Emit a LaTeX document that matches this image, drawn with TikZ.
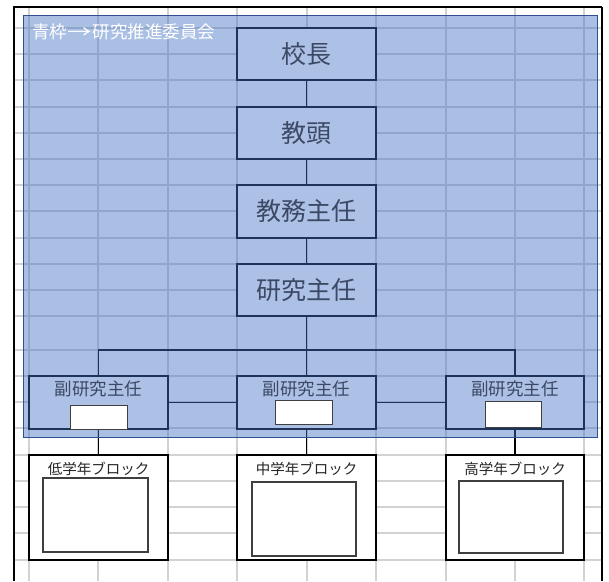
\documentclass[tikz,border=0pt]{standalone}
\usepackage{fontspec}
\usepackage{graphicx}
\newfontfamily\jp{Noto Sans CJK JP}
\definecolor{gridc}{HTML}{D2D2D2}
\definecolor{ovl}{HTML}{4472C4}
\definecolor{ovlb}{HTML}{2F528F}
\definecolor{boxf}{HTML}{ADC0E5}
\definecolor{navy}{HTML}{1F3358}
\definecolor{slate}{HTML}{3B4965}
\definecolor{dgray}{HTML}{3F3F3F}
\begin{document}
\begin{tikzpicture}[x=1pt,y=-1pt,
  gridline/.style={draw=gridc, line width=1.2pt},
  rolebox/.style={rectangle, draw=navy, line width=1.7pt, fill=boxf, inner sep=0pt, outer sep=0pt, minimum width=139pt},
  bigtext/.style={font=\jp\fontsize{25}{25}\selectfont, text=slate},
  subtext/.style={font=\jp\fontsize{17.5}{17.5}\selectfont, text=slate, inner sep=0pt},
  conn/.style={draw=navy, line width=1.3pt},
  lowconn/.style={draw=black, line width=1.2pt},
  whitebox/.style={rectangle, draw=dgray, line width=1pt, fill=white, inner sep=0pt, outer sep=0pt},
  blockbox/.style={rectangle, draw=black, line width=1.6pt, fill=white, inner sep=0pt, outer sep=0pt, minimum width=139pt, minimum height=105pt},
  innerbox/.style={rectangle, draw=dgray, line width=1.3pt, fill=white, inner sep=0pt, outer sep=0pt},
  blocktext/.style={font=\jp\fontsize{14.5}{14.5}\selectfont, text=black!85, inner sep=0pt}
]
\useasboundingbox (0,0) rectangle (609,581);
\fill[white] (0,0) rectangle (609,581);
% grid
\foreach \gx in {29,98,168,237,307,376,446,515,584}
  \draw[gridline] (\gx,7) -- (\gx,581);
\foreach \gy in {28,54,80,107,133,159,185,211,238,264,290,316,350,376,402,428,455,481,507,533,560}
  \draw[gridline] (14,\gy) -- (602,\gy);
\coordinate (bus) at (306.5,350);
% lower blocks
\node[blockbox] (blk1) at (98.5,507.5) {};
\node[blockbox] (blk2) at (306.5,507.5) {};
\node[blockbox, minimum width=138pt] (blk3) at (515,507.5) {};
% sub box frames (helpers)
\node[rectangle, inner sep=0pt, outer sep=0pt, minimum width=139pt, minimum height=53pt] (sub1) at (98.5,402.5) {};
\node[rectangle, inner sep=0pt, outer sep=0pt, minimum width=139pt, minimum height=53pt] (sub2) at (306.5,402.5) {};
\node[rectangle, inner sep=0pt, outer sep=0pt, minimum width=138pt, minimum height=53pt] (sub3) at (515,402.5) {};
\draw[lowconn] (sub1.south) -- (blk1.north);
\draw[lowconn] (sub2.south) -- (blk2.north);
\draw[lowconn] (sub3.south) -- (blk3.north);
% overlay
\fill[ovl, fill opacity=0.45] (23,15) rectangle (597,437);
\draw[ovlb, line width=0.9pt] (23,15) rectangle (597,437);
% top chain
\node[rolebox, minimum height=52pt, bigtext] (kocho) at (306.5,54) {校長};
\node[rolebox, minimum height=52pt, bigtext] (kyoto) at (306.5,133) {教頭};
\node[rolebox, minimum height=53pt, bigtext] (kyomu) at (306.5,211.5) {教務主任};
\node[rolebox, minimum height=52pt, bigtext] (kenkyu) at (306.5,290) {研究主任};
\draw[conn] (kocho.south) -- (kyoto.north);
\draw[conn] (kyoto.south) -- (kyomu.north);
\draw[conn] (kyomu.south) -- (kenkyu.north);
\draw[conn] (kenkyu.south) -- (bus);
\draw[conn] (sub1.north) |- (bus) -| (sub3.north);
\draw[conn] (bus) -- (sub2.north);
\draw[conn] (sub1.east) -- (sub2.west);
\draw[conn] (sub2.east) -- (sub3.west);
% sub boxes drawn
\node[rolebox, minimum height=53pt] (sub1b) at (sub1) {};
\node[rolebox, minimum height=53pt] (sub2b) at (sub2) {};
\node[rolebox, minimum height=53pt, minimum width=138pt] (sub3b) at (sub3) {};
\node[subtext] (sub1t) at (98.5,389) {副研究主任};
\node[subtext] (sub2t) at (306.5,389) {副研究主任};
\node[subtext] (sub3t) at (515,389) {副研究主任};
\node[whitebox, minimum width=57pt, minimum height=24pt] (w1) at (98.5,417) {};
\node[whitebox, minimum width=57pt, minimum height=24pt] (w2) at (303.5,412) {};
\node[whitebox, minimum width=56pt, minimum height=26pt] (w3) at (513,414) {};
% lower block contents
\node[blocktext] (blk1t) at (98.5,469) {低学年ブロック};
\node[blocktext] (blk2t) at (306.5,469) {中学年ブロック};
\node[blocktext] (blk3t) at (515,469) {高学年ブロック};
\node[innerbox, minimum width=105pt, minimum height=74pt] (in1) at (95.5,515) {};
\node[innerbox, minimum width=104pt, minimum height=74pt] (in2) at (304,519) {};
\node[innerbox, minimum width=104pt, minimum height=72pt] (in3) at (511,517) {};
% label
\node[font=\jp\fontsize{17.5}{17.5}\selectfont, text=white, anchor=west, inner sep=0pt] (lbl) at (32,32) {青枠\kern0.5pt\scalebox{1.4}[1]{→}\kern0.5pt 研究推進委員会};
% outer frame
\draw[black, line width=1.5pt] (14,581) -- (14,7) -- (602,7);
\draw[black, line width=2pt] (602,7) -- (602,581);
\end{tikzpicture}
\end{document}
